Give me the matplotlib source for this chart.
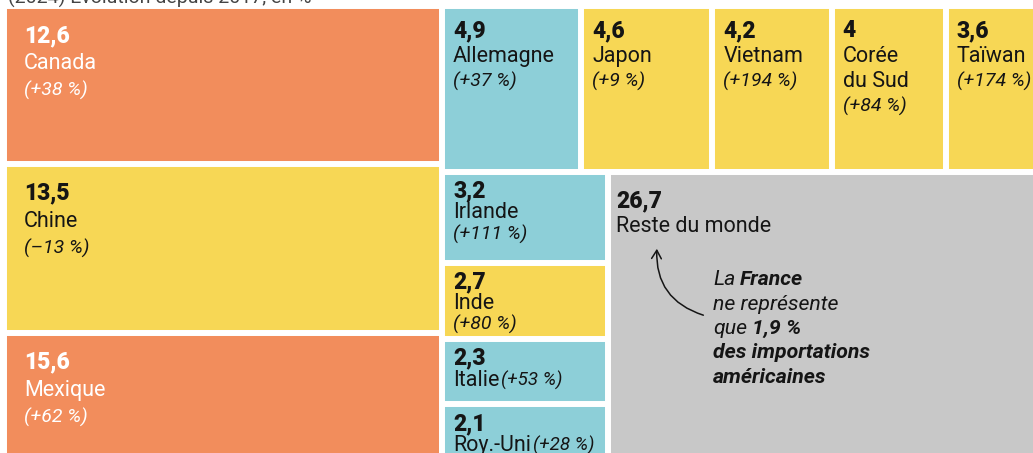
import matplotlib.pyplot as plt
from matplotlib.patches import Rectangle

plt.rcParams['font.family'] = ['Roboto', 'DejaVu Sans']

# US imports by origin, share in %, change since 2017 in %
countries = ["Canada", "Chine", "Mexique", "Allemagne", "Japon", "Vietnam",
             "Corée\ndu Sud", "Taïwan", "Irlande", "Inde", "Italie", "Roy.-Uni",
             "Reste du monde"]
values = [12.6, 13.5, 15.6, 4.9, 4.6, 4.2, 4.0, 3.6, 3.2, 2.7, 2.3, 2.1, 26.7]
changes = [38, -13, 62, 37, 9, 194, 84, 174, 111, 80, 53, 28, None]
zones = ["amer", "asie", "amer", "eur", "asie", "asie", "asie", "asie",
         "eur", "asie", "eur", "eur", "reste"]

colours = {"amer": "#F28D5C", "asie": "#F7D755", "eur": "#8DCFD8", "reste": "#C8C8C8"}

# treemap blocks: x0, y0, width, height (pixel space), split direction, members
# plus text padding: x pad, first baseline, line step
blocks = [
    (4, 6, 438, 522, "v", [0, 1, 2], 20, 36, 27),
    (442, 6, 606, 166, "h", [3, 4, 5, 6, 7], 11, 31, 25),
    (442, 172, 166, 292, "v", [8, 9, 10, 11], 11, 25.5, 21),
    (608, 172, 440, 292, "v", [12], 8, 35, 25),
]

W, H = 1033, 453
fig = plt.figure(figsize=(W / 100, H / 100), dpi=100)
ax = fig.add_axes([0, 0, 1, 1])
ax.set_xlim(0, W)
ax.set_ylim(H, 0)
ax.axis("off")

num_size, name_size, pct_size = 16.5, 15.5, 14


def pct_label(c):
    sign = "+" if c > 0 else "–"
    return f"({sign}{abs(c)} %)"


for x0, y0, bw, bh, d, idx, padx, base, step in blocks:
    total = sum(values[i] for i in idx)
    pos = 0.0
    for i in idx:
        frac = values[i] / total
        if d == "v":
            x, y, w, h = x0, y0 + pos * bh, bw, frac * bh
        else:
            x, y, w, h = x0 + pos * bw, y0, frac * bw, bh
        pos += frac
        ax.add_patch(Rectangle((x, y), w, h, facecolor=colours[zones[i]],
                               edgecolor="white", linewidth=4.3))
        col = "white" if zones[i] == "amer" else "#151515"
        tx = x + padx
        ty = y + base
        ax.text(tx, ty, f"{values[i]:g}".replace(".", ","), fontsize=num_size,
                fontweight="black", color=col, va="baseline", ha="left")
        lines = countries[i].split("\n")
        for k, ln in enumerate(lines):
            t = ax.text(tx, ty + (k + 1) * step, ln, fontsize=name_size,
                        color=col, va="baseline", ha="left")
        if changes[i] is None:
            continue
        if h < 70:
            ax.annotate(pct_label(changes[i]), xy=(1, ty + len(lines) * step),
                        xycoords=(t, "data"), xytext=(1.5, 0),
                        textcoords="offset points", fontsize=pct_size - 0.5,
                        style="italic", color=col, va="baseline", ha="left")
        else:
            ax.text(tx, ty + (len(lines) + 1) * step, pct_label(changes[i]),
                    fontsize=pct_size, style="italic", color=col,
                    va="baseline", ha="left")

# cropped subtitle at the very top
ax.text(8, 3, "(2024) Évolution depuis 2017, en %", fontsize=14,
        color="#444444", va="baseline", ha="left")

# France note in the grey block
note = [
    [("La", "normal"), ("France", "bold")],
    [("ne représente", "normal")],
    [("que", "normal"), ("1,9 %", "bold")],
    [("des importations", "bold")],
    [("américaines", "bold")],
]
nx, ny = 713, 285
for k, parts in enumerate(note):
    yy = ny + k * 24.5
    prev = None
    for txt, wt in parts:
        kw = dict(fontsize=15.3, style="italic", fontweight=wt, color="#151515",
                  va="baseline", ha="left")
        if prev is None:
            prev = ax.text(nx, yy, txt, **kw)
        else:
            prev = ax.annotate(txt, xy=(1, yy), xycoords=(prev, "data"),
                               xytext=(3.5, 0), textcoords="offset points", **kw)

ax.annotate("", xy=(657, 246), xytext=(706, 316),
            arrowprops=dict(arrowstyle="->,head_length=0.6,head_width=0.35",
                            color="#151515", lw=1.1,
                            connectionstyle="arc3,rad=-0.4"))

fig.savefig("out.png", dpi=100)
